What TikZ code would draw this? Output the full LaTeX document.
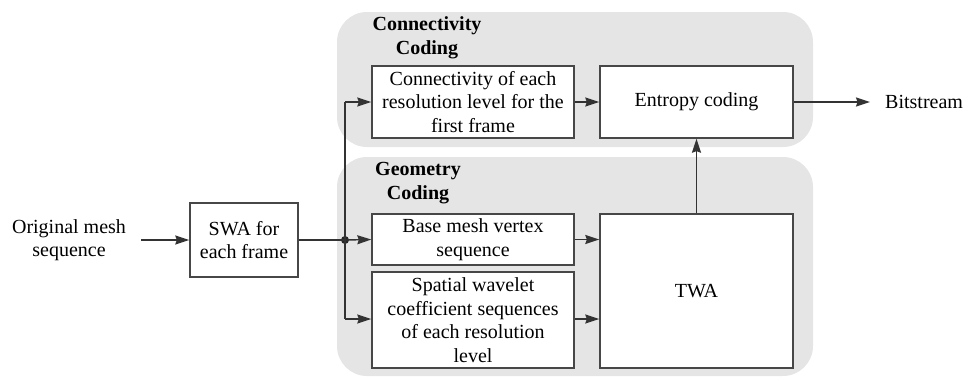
\documentclass[tikz,border=0pt]{standalone}
\usepackage{fontspec}
\setmainfont{Liberation Serif}
\newfontfamily\timesfont{Liberation Serif}
\usetikzlibrary{arrows.meta}
\begin{document}
\begin{tikzpicture}[x=1pt,y=-1pt,
  box/.style={draw=black!72, line width=1.4pt, fill=white, align=center, inner sep=0pt, font=\timesfont\fontsize{20}{23.5}\selectfont},
  panel/.style={fill=black!10, rounded corners=30pt},
  arr/.style={-{Stealth[length=14pt,width=9pt,inset=1.5pt]}, line width=1.4pt, draw=black!80},
  ln/.style={line width=1.4pt, draw=black!80},
  lbl/.style={font=\timesfont\fontsize{20}{24.5}\selectfont\bfseries, align=center, inner sep=0pt},
  txt/.style={font=\timesfont\fontsize{20}{23.5}\selectfont, align=center, inner sep=0pt}]
\useasboundingbox (0,0) rectangle (967,378);
\fill[panel] (337,12) rectangle (813,147);
\fill[panel] (337,157) rectangle (813,376);
\node[lbl] (clbl) at (427,38) {Connectivity\\Coding};
\node[lbl] (glbl) at (418,183) {Geometry\\Coding};
\node[box, minimum width=202pt, minimum height=72pt] (conn) at (473,102) {Connectivity of each\\resolution level for the\\first frame};
\node[box, minimum width=193pt, minimum height=72pt] (ent) at (696.5,102) {Entropy coding};
\node[box, minimum width=202pt, minimum height=51pt] (base) at (473,239.5) {Base mesh vertex\\sequence};
\node[box, minimum width=202pt, minimum height=96pt] (spat) at (473,320) {Spatial wavelet\\coefficient sequences\\of each resolution\\level};
\node[box, minimum width=193pt, minimum height=154pt] (twa) at (696.5,291) {TWA};
\node[box, minimum width=108pt, minimum height=74pt] (swa) at (244,240) {SWA for\\each frame};
\node[txt] (orig) at (69,240) {Original mesh\\sequence};
\node[txt, anchor=west] (bit) at (885,102) {Bitstream};
\fill[black!85] (345,240) circle (4pt) coordinate (dot);
\coordinate (top) at (345,102);
\coordinate (bot) at (345,319);
\draw[arr, shorten <=15pt] (orig.east) -- (swa.west);
\draw[ln] (swa.east) -- (dot);
\draw[arr] (dot) -- (base.west);
\draw[ln] (top) -- (bot);
\draw[arr] (top) -- (conn.west);
\draw[arr] (bot) -- (spat.west |- bot);
\draw[arr] (conn.east) -- (ent.west);
\draw[arr] (base.east) -- (twa.west |- base.east);
\draw[arr] (spat.east |- bot) -- (twa.west |- bot);
\draw[arr] (twa.north) -- (ent.south);
\draw[arr, shorten >=15pt] (ent.east) -- (bit.west);
\end{tikzpicture}
\end{document}
